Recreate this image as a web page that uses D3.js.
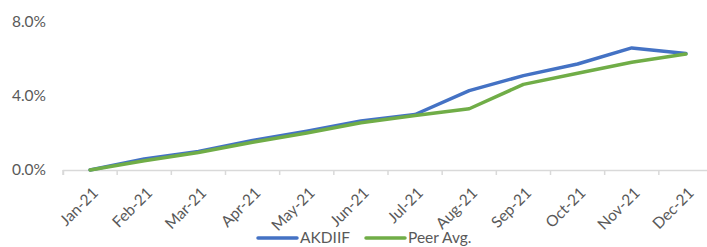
<!DOCTYPE html>
<html>
<head>
<meta charset="utf-8">
<script src="https://cdn.jsdelivr.net/npm/d3@7"></script>
<style>
  body { margin: 0; background: #fff; }
  text { font-family: Lato, "Open Sans", sans-serif; fill: #595959; }
</style>
</head>
<body>
<svg id="main" width="707" height="247"></svg>
<script>
// monthly cumulative returns
var months = ["Jan-21", "Feb-21", "Mar-21", "Apr-21", "May-21", "Jun-21",
              "Jul-21", "Aug-21", "Sep-21", "Oct-21", "Nov-21", "Dec-21"];
var akdiif = [0.0, 0.6, 1.0, 1.6, 2.1, 2.65, 3.0, 4.29, 5.1, 5.73, 6.6, 6.3];
var peerAvg = [0.0, 0.5, 0.95, 1.5, 2.0, 2.55, 2.95, 3.31, 4.63, 5.23, 5.82, 6.27];
var yTicks = [0, 4, 8];

var series = [
    {name: "AKDIIF", values: akdiif, color: "#4472C4"},
    {name: "Peer Avg.", values: peerAvg, color: "#70AD47"}
];

var FONT = 15.5;
var svg = d3.select("svg#main");

var x = d3.scaleBand().domain(months).range([63, 713]);
var y = d3.scaleLinear().domain([0, 8]).range([170, 22]);

// y labels, no gridlines
svg.append("g")
    .selectAll("text").data(yTicks)
    .join("text")
    .attr("x", 46)
    .attr("y", d => y(d))
    .attr("dy", "0.35em")
    .attr("text-anchor", "end")
    .attr("font-size", FONT)
    .text(d => d.toFixed(1) + "%");

// x axis
var xAxis = svg.append("g")
    .attr("transform", "translate(0,170)")
    .call(d3.axisBottom(x).tickSizeOuter(0).tickSize(5).tickFormat(""));
xAxis.select(".domain").attr("stroke", "#d9d9d9").attr("stroke-width", 1.5);
xAxis.selectAll(".tick line")
    .attr("stroke", "#d9d9d9")
    .attr("stroke-width", 1.5)
    .attr("transform", function() {
        return "translate(" + (-x.bandwidth() / 2) + ",0)";
    });

svg.append("g")
    .selectAll("text").data(months)
    .join("text")
    .attr("text-anchor", "end")
    .attr("font-size", FONT)
    .attr("transform", d => "translate(" + (x(d) + x.bandwidth() / 2 + 9) + ",194) rotate(-45)")
    .text(d => d);

var line = d3.line()
    .x((d, i) => x(months[i]) + x.bandwidth() / 2)
    .y(d => y(d));

svg.append("g")
    .selectAll("path").data(series)
    .join("path")
    .attr("d", s => line(s.values))
    .attr("fill", "none")
    .attr("stroke", s => s.color)
    .attr("stroke-width", 3.5)
    .attr("stroke-linejoin", "round")
    .attr("stroke-linecap", "round");

// legend
var legendX = [258, 366];
var legend = svg.append("g")
    .selectAll("g").data(series)
    .join("g")
    .attr("transform", (s, i) => "translate(" + legendX[i] + ",238)");
legend.append("line")
    .attr("x1", 0).attr("x2", 39)
    .attr("stroke", s => s.color)
    .attr("stroke-width", 3.5)
    .attr("stroke-linecap", "round");
legend.append("text")
    .attr("x", 42)
    .attr("dy", "0.35em")
    .attr("font-size", FONT)
    .text(s => s.name);
</script>
</body>
</html>
